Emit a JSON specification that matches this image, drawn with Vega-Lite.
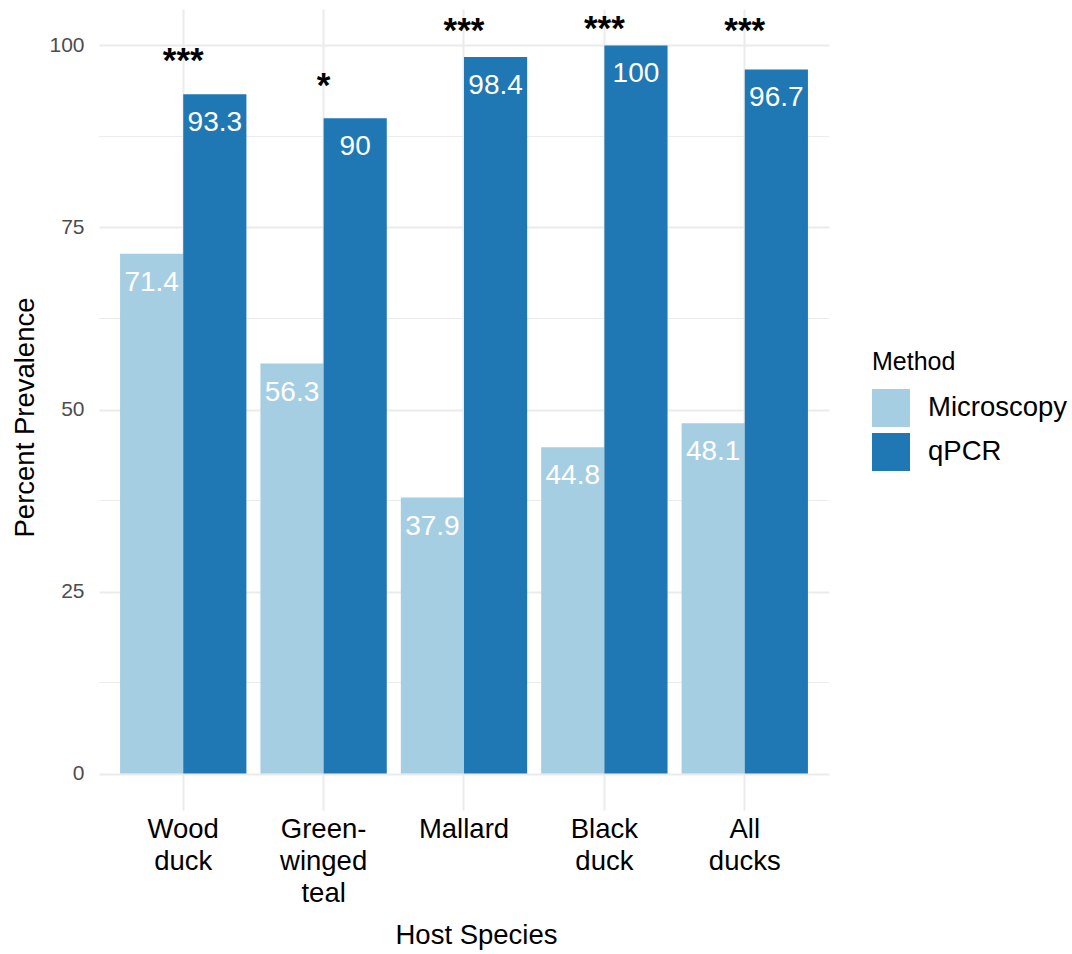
{
  "$schema": "https://vega.github.io/schema/vega-lite/v6.json",
  "width": 730,
  "height": 801,
  "autosize": {"type": "none"},
  "padding": {"left": 99, "top": 9, "right": 243, "bottom": 144},
  "background": "white",
  "config": {
    "view": {"stroke": null},
    "font": "Liberation Sans",
    "axis": {
      "domain": false,
      "ticks": false,
      "gridColor": "#EBEBEB",
      "gridWidth": 2,
      "titleFontWeight": "normal",
      "titleColor": "black",
      "titleFontSize": 27.5
    },
    "axisY": {"labelFontSize": 21, "labelColor": "#4D4D4D", "labelPadding": 15},
    "axisX": {"labelFontSize": 27.5, "labelColor": "black", "labelAngle": 0}
  },
  "datasets": {
    "prevalence": [
      {"species": "Wood duck", "method": "Microscopy", "value": 71.4},
      {"species": "Wood duck", "method": "qPCR", "value": 93.3},
      {"species": "Green-winged teal", "method": "Microscopy", "value": 56.3},
      {"species": "Green-winged teal", "method": "qPCR", "value": 90},
      {"species": "Mallard", "method": "Microscopy", "value": 37.9},
      {"species": "Mallard", "method": "qPCR", "value": 98.4},
      {"species": "Black duck", "method": "Microscopy", "value": 44.8},
      {"species": "Black duck", "method": "qPCR", "value": 100},
      {"species": "All ducks", "method": "Microscopy", "value": 48.1},
      {"species": "All ducks", "method": "qPCR", "value": 96.7}
    ],
    "significance": [
      {"species": "Wood duck", "stars": "***", "value": 98.5},
      {"species": "Green-winged teal", "stars": "*", "value": 95.1},
      {"species": "Mallard", "stars": "***", "value": 102.6},
      {"species": "Black duck", "stars": "***", "value": 102.9},
      {"species": "All ducks", "stars": "***", "value": 102.7}
    ],
    "minorGrid": [
      {"value": 12.5}, {"value": 37.5}, {"value": 62.5}, {"value": 87.5}
    ]
  },
  "layer": [
    {
      "data": {"name": "minorGrid"},
      "mark": {"type": "rule", "color": "#EBEBEB", "strokeWidth": 1},
      "encoding": {
        "y": {
          "field": "value", "type": "quantitative",
          "scale": {"domain": [-5, 105], "nice": false, "zero": false},
          "axis": {
            "title": "Percent Prevalence",
            "values": [0, 25, 50, 75, 100],
            "titleAngle": -90,
            "titleX": -66,
            "titleY": 408,
            "titleAlign": "center",
            "titleBaseline": "alphabetic"
          }
        }
      }
    },
    {
      "data": {"name": "prevalence"},
      "mark": {"type": "bar"},
      "encoding": {
        "x": {
          "field": "species", "type": "nominal",
          "sort": ["Wood duck", "Green-winged teal", "Mallard", "Black duck", "All ducks"],
          "scale": {"paddingInner": 0.1, "paddingOuter": 0.15},
          "axis": {
            "title": "Host Species",
            "grid": true,
            "bandPosition": 0.5,
            "labelExpr": "split(replace(replace(datum.label, '-', '-|'), ' ', '|'), '|')",
            "labelBaseline": "alphabetic",
            "labelPadding": 27,
            "labelLineHeight": 32,
            "titleX": 377,
            "titleY": 133,
            "titleAlign": "center",
            "titleBaseline": "alphabetic"
          }
        },
        "xOffset": {
          "field": "method", "type": "nominal",
          "scale": {"paddingInner": 0, "paddingOuter": 0}
        },
        "y": {
          "field": "value", "type": "quantitative",
          "scale": {"domain": [-5, 105], "nice": false, "zero": false},
          "title": "Percent Prevalence"
        },
        "color": {
          "field": "method", "type": "nominal",
          "scale": {"domain": ["Microscopy", "qPCR"], "range": ["#A6CEE3", "#1F78B4"]},
          "legend": {
            "title": "Method",
            "orient": "none",
            "legendX": 773,
            "legendY": 341,
            "titleFontSize": 25,
            "titleFontWeight": "normal",
            "titleColor": "black",
            "titlePadding": 14,
            "labelFontSize": 27.5,
            "labelColor": "black",
            "labelOffset": 18,
            "symbolType": "square",
            "symbolSize": 1444,
            "symbolStrokeWidth": 0,
            "symbolOpacity": 1,
            "rowPadding": 6
          }
        }
      }
    },
    {
      "data": {"name": "prevalence"},
      "mark": {"type": "text", "color": "white", "fontSize": 28, "baseline": "alphabetic", "align": "center", "dy": 37},
      "encoding": {
        "x": {"field": "species", "type": "nominal", "sort": ["Wood duck", "Green-winged teal", "Mallard", "Black duck", "All ducks"]},
        "xOffset": {"field": "method", "type": "nominal"},
        "y": {"field": "value", "type": "quantitative", "title": "Percent Prevalence"},
        "text": {"field": "value", "type": "nominal"}
      }
    },
    {
      "data": {"name": "significance"},
      "mark": {"type": "text", "color": "black", "fontSize": 35, "fontWeight": "bold", "baseline": "alphabetic", "align": "center", "dy": 16},
      "encoding": {
        "x": {"field": "species", "type": "nominal", "sort": ["Wood duck", "Green-winged teal", "Mallard", "Black duck", "All ducks"]},
        "y": {"field": "value", "type": "quantitative", "title": "Percent Prevalence"},
        "text": {"field": "stars", "type": "nominal"}
      }
    }
  ]
}
